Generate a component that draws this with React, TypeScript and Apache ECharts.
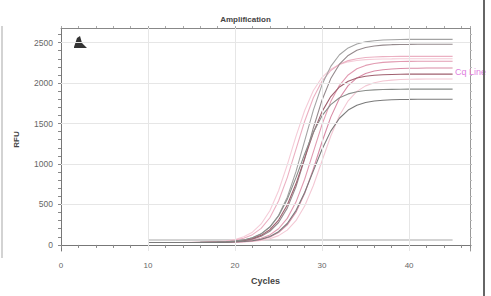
import React, { useEffect, useRef } from 'react';
import * as echarts from 'echarts';

// Cycle numbers shown on the plot
const cycles = [10, 11, 12, 13, 14, 15, 16, 17, 18, 19, 20, 21, 22, 23, 24, 25, 26, 27, 28, 29, 30, 31, 32, 33, 34, 35, 36, 37, 38, 39, 40, 41, 42, 43, 44, 45];

// RFU values (one array per well)
const wellA = [30, 30, 30, 30, 30, 30, 31, 33, 35, 39, 47, 61, 88, 136, 221, 364, 589, 905, 1285, 1665, 1981, 2206, 2349, 2434, 2482, 2509, 2523, 2531, 2535, 2537, 2539, 2540, 2540, 2540, 2540, 2540];
const wellB = [30, 30, 30, 30, 30, 30, 31, 32, 33, 36, 42, 52, 71, 106, 169, 277, 455, 719, 1065, 1445, 1791, 2055, 2233, 2341, 2404, 2439, 2458, 2468, 2474, 2477, 2478, 2480, 2480, 2480, 2480, 2480];
const wellC = [30, 30, 30, 30, 30, 30, 32, 34, 38, 45, 59, 83, 127, 205, 336, 542, 832, 1180, 1528, 1818, 2024, 2155, 2233, 2277, 2301, 2315, 2322, 2326, 2328, 2330, 2330, 2330, 2330, 2330, 2330, 2330];
const wellD = [30, 30, 30, 30, 30, 30, 30, 31, 32, 34, 38, 45, 58, 82, 124, 200, 328, 529, 811, 1150, 1489, 1771, 1972, 2100, 2176, 2218, 2242, 2255, 2262, 2266, 2268, 2270, 2270, 2270, 2270, 2270];
const wellE = [30, 30, 30, 30, 30, 30, 30, 31, 32, 33, 36, 41, 50, 66, 97, 152, 247, 403, 636, 940, 1275, 1579, 1812, 1968, 2063, 2118, 2149, 2165, 2174, 2179, 2182, 2183, 2185, 2185, 2185, 2185];
const wellF = [30, 30, 30, 30, 30, 30, 30, 32, 34, 37, 44, 56, 78, 118, 188, 307, 493, 755, 1070, 1385, 1647, 1833, 1952, 2022, 2062, 2084, 2096, 2103, 2106, 2108, 2110, 2110, 2110, 2110, 2110, 2110];
const wellG = [30, 30, 30, 30, 30, 30, 31, 33, 35, 39, 47, 62, 89, 137, 221, 358, 563, 831, 1124, 1392, 1597, 1734, 1818, 1866, 1893, 1908, 1916, 1920, 1922, 1924, 1925, 1925, 1925, 1925, 1925, 1925];
const wellH = [30, 30, 30, 30, 30, 30, 30, 30, 32, 33, 36, 42, 52, 71, 105, 164, 265, 424, 647, 915, 1183, 1406, 1565, 1666, 1725, 1759, 1778, 1788, 1794, 1797, 1798, 1800, 1800, 1800, 1800, 1800];
const wellI = [30, 30, 30, 30, 30, 32, 33, 36, 41, 51, 68, 101, 158, 259, 423, 669, 989, 1341, 1661, 1907, 2071, 2172, 2229, 2262, 2279, 2289, 2294, 2297, 2298, 2300, 2300, 2300, 2300, 2300, 2300, 2300];
const wellJ = [30, 30, 30, 30, 30, 30, 30, 30, 30, 32, 34, 37, 44, 55, 76, 115, 183, 299, 480, 734, 1040, 1346, 1600, 1781, 1897, 1965, 2004, 2025, 2036, 2043, 2046, 2048, 2050, 2050, 2050, 2050];
const wellNTC = [60, 60, 61, 61, 60, 60, 61, 61, 60, 60, 61, 61, 60, 60, 61, 61, 60, 60, 61, 61, 60, 60, 61, 61, 60, 60, 61, 61, 60, 60, 61, 61, 60, 60, 61, 61];

// Axis ticks / labels / grid
const xGridValues = [10, 20, 30, 40];
const yTickValues = [0, 100, 200, 300, 400, 500, 600, 700, 800, 900, 1000, 1100, 1200, 1300, 1400, 1500, 1600, 1700, 1800, 1900, 2000, 2100, 2200, 2300, 2400, 2500, 2600];
const yLabelValues = [0, 500, 1000, 1500, 2000, 2500];
const yGridValues = [500, 1000, 1500, 2000, 2500];

const wells = [
  { name: 'I', data: wellI },
  { name: 'J', data: wellJ },
  { name: 'C', data: wellC },
  { name: 'D', data: wellD },
  { name: 'E', data: wellE },
  { name: 'A', data: wellA },
  { name: 'B', data: wellB },
  { name: 'F', data: wellF },
  { name: 'G', data: wellG },
  { name: 'H', data: wellH },
];
const wellColors = ['#f5ccd8', '#f3c8d4', '#ebb0c2', '#e29cb2', '#d98ca6', '#a3a3a3', '#958a8d', '#a0606f', '#8a8e8b', '#7b7b7b'];

const FONT = 'Liberation Sans, Arial, sans-serif';

export default function App() {
  const ref = useRef<HTMLDivElement>(null);
  useEffect(() => {
    const chart = echarts.init(ref.current!, null, { renderer: 'svg' });
    const lineSeries: any[] = wells.map((w, i) => ({
      name: w.name,
      type: 'line',
      xAxisIndex: 0,
      yAxisIndex: 0,
      data: cycles.map((c, j) => [c, w.data[j]]),
      showSymbol: false,
      symbol: 'none',
      lineStyle: { width: 1.1, color: wellColors[i] },
      itemStyle: { color: wellColors[i] },
      z: 3,
    }));
    lineSeries.unshift({
      name: 'NTC',
      type: 'line',
      data: cycles.map((c, j) => [c, wellNTC[j]]),
      symbol: 'none',
      lineStyle: { width: 1.1, color: '#a8a8a8' },
      z: 2,
      markLine: {
        silent: true,
        symbol: 'none',
        label: { show: false },
        lineStyle: { color: '#e6e6e6', width: 1, type: 'solid' },
        data: [
          ...xGridValues.map((v) => ({ xAxis: v })),
          ...yGridValues.map((v) => ({ yAxis: v })),
        ],
      },
    });

    chart.setOption({
      animation: false,
      backgroundColor: '#ffffff',
      textStyle: { fontFamily: FONT },
      title: {
        text: 'Amplification',
        left: 'center',
        top: 10,
        textStyle: { fontSize: 8, fontWeight: 'bold', color: '#444', fontFamily: FONT },
      },
      grid: { left: 61, right: 21, top: 28, bottom: 45 },
      xAxis: [
        {
          type: 'value',
          min: 0,
          max: 47,
          interval: 2,
          name: 'Cycles',
          nameLocation: 'middle',
          nameGap: 25,
          nameTextStyle: { fontSize: 9, fontWeight: 'bold', color: '#444', fontFamily: FONT },
          axisLine: { show: true, lineStyle: { color: '#777' } },
          axisTick: { show: true, length: 3, lineStyle: { color: '#888' } },
          axisLabel: {
            fontSize: 8,
            color: '#666',
            margin: 10,
            formatter: (v: number) => (v % 10 === 0 ? String(v) : ''),
          },
          splitLine: { show: false },
        },
        {
          type: 'value',
          position: 'top',
          min: 0,
          max: 47,
          interval: 2,
          axisLine: { show: true, onZero: false, lineStyle: { color: '#888' } },
          axisTick: { show: true, length: 2, lineStyle: { color: '#aaa' } },
          axisLabel: { show: false },
          splitLine: { show: false },
        },
      ],
      yAxis: [
        {
          type: 'value',
          min: -75,
          max: 2680,
          name: 'RFU',
          nameLocation: 'middle',
          nameGap: 41,
          nameTextStyle: { fontSize: 8, fontWeight: 'bold', color: '#444', fontFamily: FONT },
          axisLine: { show: true, onZero: false, lineStyle: { color: '#777' } },
          axisTick: { show: true, length: 3, customValues: yTickValues, lineStyle: { color: '#888' } },
          axisLabel: {
            fontSize: 8.5,
            color: '#666',
            margin: 8,
            customValues: yLabelValues,
            formatter: (v: number) => String(v),
          },
          splitLine: { show: false },
        },
        {
          type: 'value',
          position: 'right',
          min: -75,
          max: 2680,
          axisLine: { show: true, onZero: false, lineStyle: { color: '#999' } },
          axisTick: { show: true, length: 2, customValues: yTickValues, lineStyle: { color: '#bbb' } },
          axisLabel: { show: false },
          splitLine: { show: false },
        },
      ],
      series: lineSeries,
      graphic: [
        {
          type: 'line',
          shape: { x1: 2, y1: 26, x2: 2, y2: 258 },
          style: { stroke: '#c4c4c4', lineWidth: 1.5 },
          silent: true,
        },
        {
          type: 'line',
          shape: { x1: 484, y1: 0, x2: 484, y2: 296 },
          style: { stroke: '#666', lineWidth: 2 },
          silent: true,
          z: 10,
        },
        {
          type: 'polygon',
          shape: { points: [[74, 47], [77, 38], [80, 36], [82, 43], [87, 48], [74, 48]] },
          style: { fill: '#333' },
          silent: true,
        },
        {
          type: 'text',
          x: 455,
          y: 67,
          style: { text: 'Cq Line', fontSize: 9, fill: '#e07ee0', fontFamily: FONT },
          silent: true,
          z: 5,
        },
      ],
    });
    return () => chart.dispose();
  }, []);
  return <div ref={ref} style={{ position: 'fixed', left: 0, top: 0, width: 491, height: 296 }} />;
}
